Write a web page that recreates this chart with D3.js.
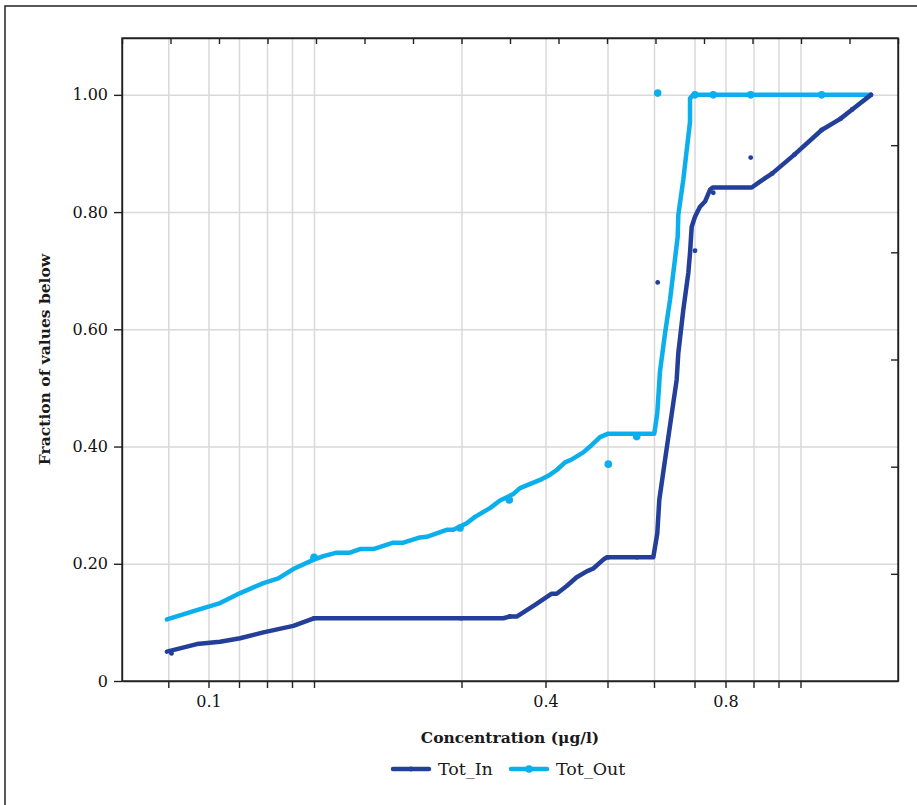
<!DOCTYPE html>
<html>
<head>
<meta charset="utf-8">
<script src="https://cdn.jsdelivr.net/npm/d3@7"></script>
<style>
  body { margin: 0; background: #fff; }
  text { font-family: "DejaVu Serif", serif; fill: #1a1a1a; }
  .grid line { stroke: #d9d9d9; stroke-width: 1.5; }
  .grid path { display: none; }
  .axis path, .axis line { stroke: #222; stroke-width: 1.4; }
</style>
</head>
<body>
<script>
// concentration (µg/l), fraction of values below
var inLine = [[0.0897,0.050],[0.0971,0.063],[0.1038,0.067],[0.1104,0.073],[0.1187,0.083],[0.1306,0.094],
  [0.1399,0.107],[0.3498,0.107],[0.3577,0.110],[0.3657,0.110],[0.3875,0.130],[0.41,0.149],[0.4181,0.149],
  [0.4342,0.162],[0.4503,0.177],[0.4665,0.187],[0.4771,0.192],[0.4932,0.207],[0.4987,0.211],[0.5985,0.211],
  [0.6081,0.252],[0.6131,0.309],[0.6272,0.377],[0.656,0.514],[0.66,0.559],[0.6723,0.633],[0.6847,0.696],
  [0.6889,0.730],[0.6931,0.775],[0.7016,0.792],[0.7177,0.809],[0.7339,0.818],[0.75,0.838],[0.7587,0.842],
  [0.8936,0.842],[0.926,0.852],[0.9752,0.866],[1.0723,0.898],[1.1869,0.940],[1.2632,0.959],[1.312,0.975],[1.389,1.0]];

var inPts = [[0.0908,0.047],[0.14,0.107],[0.2995,0.107],[0.3577,0.110],[0.5017,0.211],[0.5634,0.211],
  [0.6091,0.680],[0.7016,0.734],[0.7606,0.833],[0.89,0.893],[0.9752,0.866],[1.0723,0.898],[1.1869,0.940],
  [1.2632,0.959],[1.312,0.975],[1.389,1.0]];

var outLine = [[0.0897,0.105],[0.0971,0.121],[0.1038,0.133],[0.1104,0.150],[0.1187,0.167],[0.1245,0.175],
  [0.1306,0.191],[0.1399,0.207],[0.1501,0.213],[0.1646,0.219],[0.179,0.219],[0.1899,0.225],[0.2043,0.225],
  [0.226,0.236],[0.2369,0.236],[0.255,0.245],[0.2622,0.246],[0.2839,0.258],[0.2911,0.258],[0.3062,0.269],
  [0.3161,0.280],[0.3339,0.295],[0.3458,0.308],[0.3617,0.319],[0.3696,0.329],[0.3935,0.343],[0.4073,0.352],
  [0.4181,0.360],[0.4315,0.373],[0.4423,0.378],[0.461,0.390],[0.4718,0.400],[0.4879,0.416],[0.5017,0.422],
  [0.6007,0.422],[0.6081,0.457],[0.6148,0.528],[0.6272,0.593],[0.6395,0.650],[0.6585,0.758],[0.66,0.795],
  [0.6723,0.855],[0.6889,0.954],[0.6889,0.994],[0.697,1.0],[1.389,1.0]];

var outPts = [[0.14,0.211],[0.2984,0.261],[0.3569,0.309],[0.5017,0.370],[0.5628,0.417],[0.6091,1.003],
  [0.7016,1.0],[0.7606,1.0],[0.89,1.0],[1.1869,1.0]];

var xTicks = [0.09, 0.1, 0.11, 0.12, 0.13, 0.14, 0.3, 0.4, 0.5, 0.6, 0.7, 0.8, 0.9, 1.0, 1.1];
var xLabels = [0.1, 0.4, 0.8];
var yTicks = [0, 0.2, 0.4, 0.6, 0.8, 1.0];

var series = [
  {name: "Tot_Out", line: outLine, pts: outPts, colour: "#0aafec", r: 3.8},
  {name: "Tot_In", line: inLine, pts: inPts, colour: "#233f99", r: 2.4}
];

var width = 917, height = 805;
var margin = {top: 38, right: 19, bottom: 124, left: 122};
var w = width - margin.left - margin.right,
    h = height - margin.top - margin.bottom;

var svg = d3.select("body").append("svg")
    .attr("width", width)
    .attr("height", height);

// outer frame
svg.append("rect")
  .attr("x", 5).attr("y", 6)
  .attr("width", width + 10).attr("height", height + 10)
  .style("fill", "none")
  .style("stroke", "#222")
  .style("stroke-width", 1.5);

var g = svg.append("g")
  .attr("transform", `translate(${margin.left},${margin.top})`);

// uneven concentration axis, one stop per gridline
var xStops = [0, 46.3, 86.5, 117, 145, 170, 192, 339.5, 423.5, 485.5, 532, 572.5, 603.5, 631.5, 656.5, 678.5, 776];
var x = d3.scaleLinear()
  .domain([0.08].concat(xTicks, [1.5]))
  .range(xStops);

var y = d3.scaleLinear()
  .domain([0, 1.097])
  .range([h, 0]);

// gridlines
g.append("g")
  .attr("class", "grid")
  .attr("transform", `translate(0,${h})`)
  .call(d3.axisBottom(x).tickValues(xTicks).tickSize(-h).tickFormat(""));

g.append("g")
  .attr("class", "grid")
  .call(d3.axisLeft(y).tickValues(yTicks.slice(1)).tickSize(-w).tickFormat(""));

// secondary ticks on top and right, no labels
var xTop = d3.scaleLinear().domain([0, 16]).range([0, w]);
var yRight = d3.scaleLinear().domain([0, 6]).range([h, 0]);

g.append("g")
  .attr("class", "axis")
  .call(d3.axisBottom(xTop).tickValues(d3.range(0, 17)).tickSize(6).tickSizeOuter(0).tickFormat(""));

g.append("g")
  .attr("class", "axis")
  .attr("transform", `translate(${w},0)`)
  .call(d3.axisLeft(yRight).tickValues(d3.range(1, 6)).tickSize(7).tickSizeOuter(0).tickFormat(""));

// primary axes
var xAxis = d3.axisBottom(x)
  .tickValues(xTicks)
  .tickSize(7)
  .tickSizeOuter(0)
  .tickFormat(d => xLabels.indexOf(d) >= 0 ? d3.format(".1f")(d) : "");

g.append("g")
  .attr("class", "axis")
  .attr("transform", `translate(0,${h})`)
  .call(xAxis)
  .call(a => a.selectAll("text").attr("dy", "1.0em").style("font-size", "16px"));

var yAxis = d3.axisLeft(y)
  .tickValues(yTicks)
  .tickSize(8)
  .tickSizeOuter(0)
  .tickFormat(d => d === 0 ? "0" : d3.format(".2f")(d));

g.append("g")
  .attr("class", "axis")
  .call(yAxis)
  .call(a => a.selectAll("text").attr("x", -14).style("font-size", "16px"));

g.selectAll(".axis text").style("font-family", '"DejaVu Serif", serif').style("fill", "#111");

// plot border
g.append("rect")
  .attr("width", w).attr("height", h)
  .style("fill", "none")
  .style("stroke", "#222")
  .style("stroke-width", 1.4);

var line = d3.line()
  .x(d => x(d[0]))
  .y(d => y(d[1]));

series.forEach(s => {
  g.append("path")
    .datum(s.line)
    .attr("d", line)
    .style("fill", "none")
    .style("stroke", s.colour)
    .style("stroke-width", 4.5)
    .style("stroke-linejoin", "round")
    .style("stroke-linecap", "round");

  g.selectAll(null)
    .data(s.pts)
    .enter()
    .append("circle")
    .attr("cx", d => x(d[0]))
    .attr("cy", d => y(d[1]))
    .attr("r", s.r)
    .style("fill", s.colour);
});

// axis titles
svg.append("text")
  .attr("x", margin.left + w / 2)
  .attr("y", 743)
  .attr("text-anchor", "middle")
  .style("font-weight", "bold")
  .style("font-size", "15.5px")
  .text("Concentration (μg/l)");

svg.append("text")
  .attr("transform", `translate(50,${margin.top + h / 2}) rotate(-90)`)
  .attr("text-anchor", "middle")
  .style("font-weight", "bold")
  .style("font-size", "15.5px")
  .text("Fraction of values below");

// legend
var legend = [
  {name: "Tot_In", colour: "#233f99", r: 2.4, x: 393},
  {name: "Tot_Out", colour: "#0aafec", r: 3.8, x: 511}
];

var lg = svg.selectAll("g.legend")
  .data(legend)
  .enter()
  .append("g")
  .attr("class", "legend")
  .attr("transform", d => `translate(${d.x},769)`);

lg.append("line")
  .attr("x1", 0).attr("x2", 36)
  .style("stroke", d => d.colour)
  .style("stroke-width", 4.5)
  .style("stroke-linecap", "round");

lg.append("circle")
  .attr("cx", 18)
  .attr("r", d => d.r)
  .style("fill", d => d.colour);

lg.append("text")
  .attr("x", 45)
  .attr("dy", "0.35em")
  .style("font-size", "17.5px")
  .text(d => d.name);
</script>
</body>
</html>
